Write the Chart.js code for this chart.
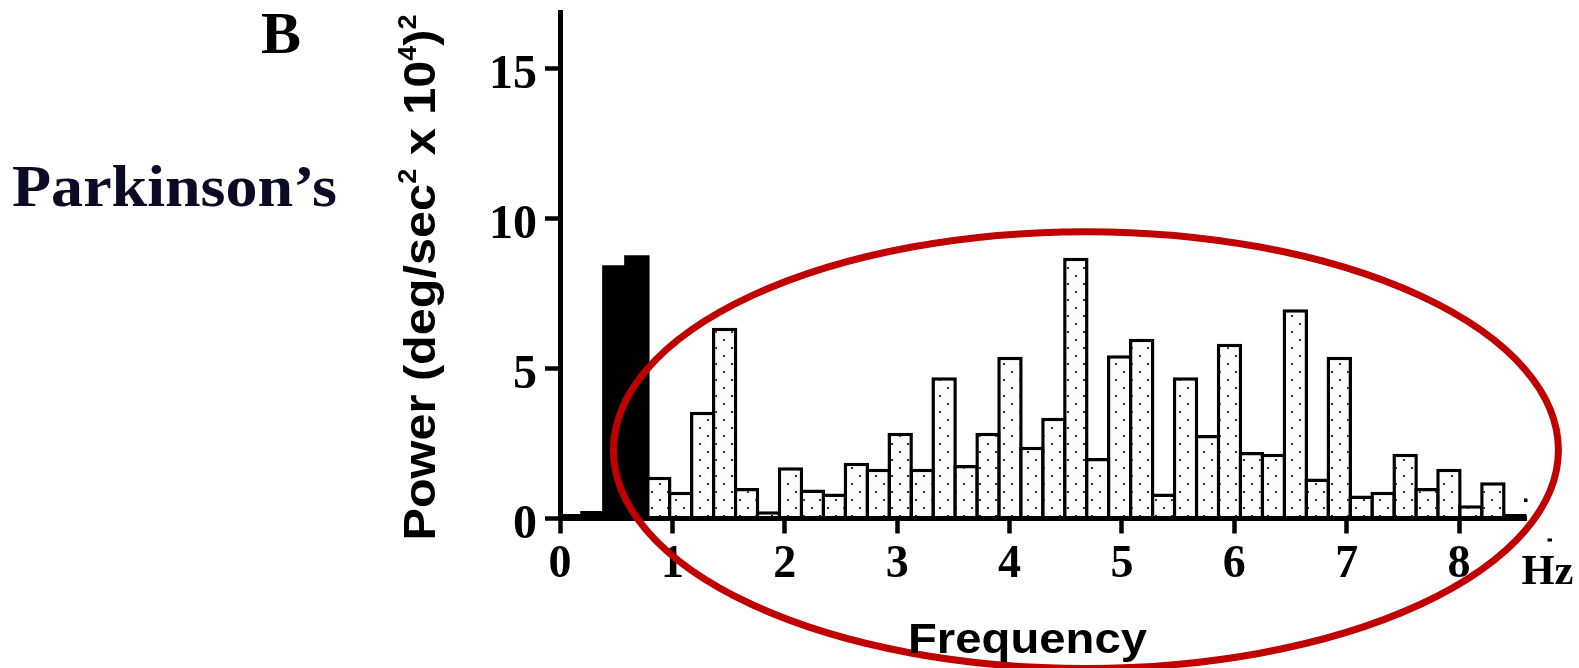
<!DOCTYPE html>
<html>
<head>
<meta charset="utf-8">
<script src="https://cdn.jsdelivr.net/npm/chart.js@4.4.1/dist/chart.umd.min.js"></script>
<style>
  html, body { margin: 0; padding: 0; background: #fff; }
  canvas { display: block; }
</style>
</head>
<body>
<canvas id="spectrum" width="1579" height="668"></canvas>
<script>
// Centre frequency of each FFT bin (bins are 100/512 Hz wide), in Hz
const binCentersHz = [
  0.098, 0.293, 0.488, 0.684, 0.879, 1.074, 1.270, 1.465, 1.660, 1.855,
  2.051, 2.246, 2.441, 2.637, 2.832, 3.027, 3.223, 3.418, 3.613, 3.809,
  4.004, 4.199, 4.395, 4.590, 4.785, 4.980, 5.176, 5.371, 5.566, 5.762,
  5.957, 6.152, 6.348, 6.543, 6.738, 6.934, 7.129, 7.324, 7.520, 7.715,
  7.910, 8.105, 8.301, 8.496
];

// Power in each bin, (deg/sec² x 10⁴)²
const powerValues = [
  0.15, 0.25, 8.44, 8.77, 1.39, 0.89, 3.56, 6.36, 1.02, 0.24,
  1.71, 0.97, 0.83, 1.86, 1.66, 2.86, 1.66, 4.71, 1.78, 2.86,
  5.39, 2.39, 3.36, 8.69, 2.02, 5.44, 5.99, 0.83, 4.71, 2.78,
  5.82, 2.22, 2.16, 6.97, 1.33, 5.39, 0.77, 0.89, 2.16, 1.02,
  1.66, 0.44, 1.21, 0.15
];

// Bins below this frequency are drawn solid black
const lowBandLimitHz = 0.8;

const xTickValues = [0, 1, 2, 3, 4, 5, 6, 7, 8];
const yTickValues = [0, 5, 10, 15];

// Highlight ellipse around the tremor band: centre [Hz, power], radii [Hz, power]
const highlightCenter = [4.68, 2.28];
const highlightRadii = [4.204, 7.28];

const SERIF = "'Liberation Serif', 'Times New Roman', serif";
const SANS = "'Liberation Sans', Arial, sans-serif";

// Bar outline width; neighbouring bars overlap by this much so shared edges stay single
const BAR_OUTLINE = 3.5;
const BIN_PX = 966.5 / 8.6 * (100 / 512);

const canvas = document.getElementById('spectrum');
const ctx = canvas.getContext('2d');

// Stippled fill used for the bars
function makeDotPattern(target) {
  const tile = document.createElement('canvas');
  tile.width = 16;
  tile.height = 16;
  const t = tile.getContext('2d');
  t.fillStyle = '#fbfbfb';
  t.fillRect(0, 0, 16, 16);
  t.fillStyle = '#2b2b2b';
  t.fillRect(3, 3, 2, 2);
  t.fillRect(11, 11, 2, 2);
  return target.createPattern(tile, 'repeat');
}
const dotFill = makeDotPattern(ctx);
const isLowBand = binCentersHz.map(f => f < lowBandLimitHz);
const barFills = isLowBand.map(low => (low ? '#000000' : dotFill));
const barOutlines = isLowBand.map(low => (low ? 0 : BAR_OUTLINE));

// Draw a text run squeezed or stretched horizontally to a given width
function drawFitted(c, text, x, y, font, width, color) {
  c.save();
  c.font = font;
  c.fillStyle = color;
  c.textBaseline = 'alphabetic';
  c.textAlign = 'left';
  const w = c.measureText(text).width;
  c.translate(x, y);
  c.scale(width / w, 1);
  c.fillText(text, 0, 0);
  c.restore();
}

const figureDecor = {
  id: 'figureDecor',
  afterDraw(chart) {
    const c = chart.ctx;
    const { x, y } = chart.scales;
    const area = chart.chartArea;

    // red highlight ellipse
    const cx = x.getPixelForValue(highlightCenter[0]);
    const cy = y.getPixelForValue(highlightCenter[1]);
    const rx = x.getPixelForValue(highlightRadii[0]) - x.getPixelForValue(0);
    const ry = y.getPixelForValue(0) - y.getPixelForValue(highlightRadii[1]);
    c.save();
    c.strokeStyle = '#c00000';
    c.lineWidth = 7;
    c.beginPath();
    c.ellipse(cx, cy, rx, ry, 0, 0, Math.PI * 2);
    c.stroke();
    c.restore();

    // panel letter and group label
    drawFitted(c, 'B', 261, 52.7, `bold 60px ${SERIF}`, 40, '#000');
    drawFitted(c, 'Parkinson\u2019s', 12, 206, `bold 59px ${SERIF}`, 325, '#0b0b26');

    // y-axis title with superscripts, rotated
    const runs = [
      { t: 'Power (deg/sec', sup: false },
      { t: '2', sup: true },
      { t: ' x 10', sup: false },
      { t: '4', sup: true },
      { t: ')', sup: false },
      { t: '2', sup: true }
    ];
    const mainFont = `bold 45px ${SANS}`;
    const supFont = `bold 25px ${SANS}`;
    c.save();
    let total = 0;
    runs.forEach(r => {
      c.font = r.sup ? supFont : mainFont;
      r.w = c.measureText(r.t).width;
      total += r.w;
    });
    const titleLength = 526;
    c.translate(area.left - 125, area.bottom + 22);
    c.rotate(-Math.PI / 2);
    c.scale(titleLength / total, 1);
    c.fillStyle = '#000';
    c.textBaseline = 'alphabetic';
    let pos = 0;
    runs.forEach(r => {
      c.font = r.sup ? supFont : mainFont;
      c.fillText(r.t, pos, r.sup ? -19 : 0);
      pos += r.w;
    });
    c.restore();

    // x-axis title and unit
    drawFitted(c, 'Frequency', 908, 652.7, `bold 43px ${SANS}`, 239, '#000');
    drawFitted(c, 'Hz', area.right - 5, 584, `bold 43px ${SERIF}`, 52, '#000');

    // small marks next to the axis end
    c.save();
    c.fillStyle = '#000';
    c.fillRect(area.right - 2.5, 498.5, 3.5, 3.5);
    c.fillRect(area.right + 21, 538.5, 4.5, 3);
    c.restore();
  }
};

new Chart(ctx, {
  type: 'bar',
  data: {
    datasets: [{
      data: binCentersHz.map((f, i) => ({ x: f, y: powerValues[i] })),
      backgroundColor: barFills,
      borderColor: '#000000',
      borderWidth: barOutlines,
      borderSkipped: 'start',
      categoryPercentage: 1,
      barPercentage: (BIN_PX + BAR_OUTLINE) / BIN_PX
    }]
  },
  options: {
    responsive: false,
    animation: false,
    devicePixelRatio: 1,
    events: [],
    layout: { padding: { top: 12, right: 52.5, bottom: 0, left: 0 } },
    plugins: {
      legend: { display: false },
      tooltip: { enabled: false }
    },
    scales: {
      x: {
        type: 'linear',
        position: 'bottom',
        min: 0,
        max: 8.6,
        offset: false,
        afterBuildTicks: s => { s.ticks = xTickValues.map(v => ({ value: v })); },
        afterFit: s => { s.height = 149.5; s.paddingLeft = 0; s.paddingRight = 0; },
        ticks: {
          font: { family: SERIF, weight: 'bold', size: 46, lineHeight: 1.2 },
          color: '#000',
          padding: 4,
          maxRotation: 0,
          autoSkip: false
        },
        grid: {
          offset: false,
          drawOnChartArea: false,
          drawTicks: true,
          tickLength: 15,
          tickWidth: 4.5,
          tickColor: '#000'
        },
        border: { display: true, color: '#000', width: 5, z: 1 }
      },
      y: {
        type: 'linear',
        position: 'left',
        min: 0,
        max: 16.88,
        afterBuildTicks: s => { s.ticks = yTickValues.map(v => ({ value: v })); },
        afterFit: s => { s.width = 560; s.paddingTop = 0; s.paddingBottom = 0; },
        ticks: {
          font: { family: SERIF, weight: 'bold', size: 48, lineHeight: 1.2 },
          color: '#000',
          padding: 8,
          labelOffset: 7
        },
        grid: {
          drawOnChartArea: false,
          drawTicks: true,
          tickLength: 15,
          tickWidth: 4.5,
          tickColor: '#000'
        },
        border: { display: true, color: '#000', width: 5, z: 1 }
      }
    }
  },
  plugins: [figureDecor]
});
</script>
</body>
</html>
